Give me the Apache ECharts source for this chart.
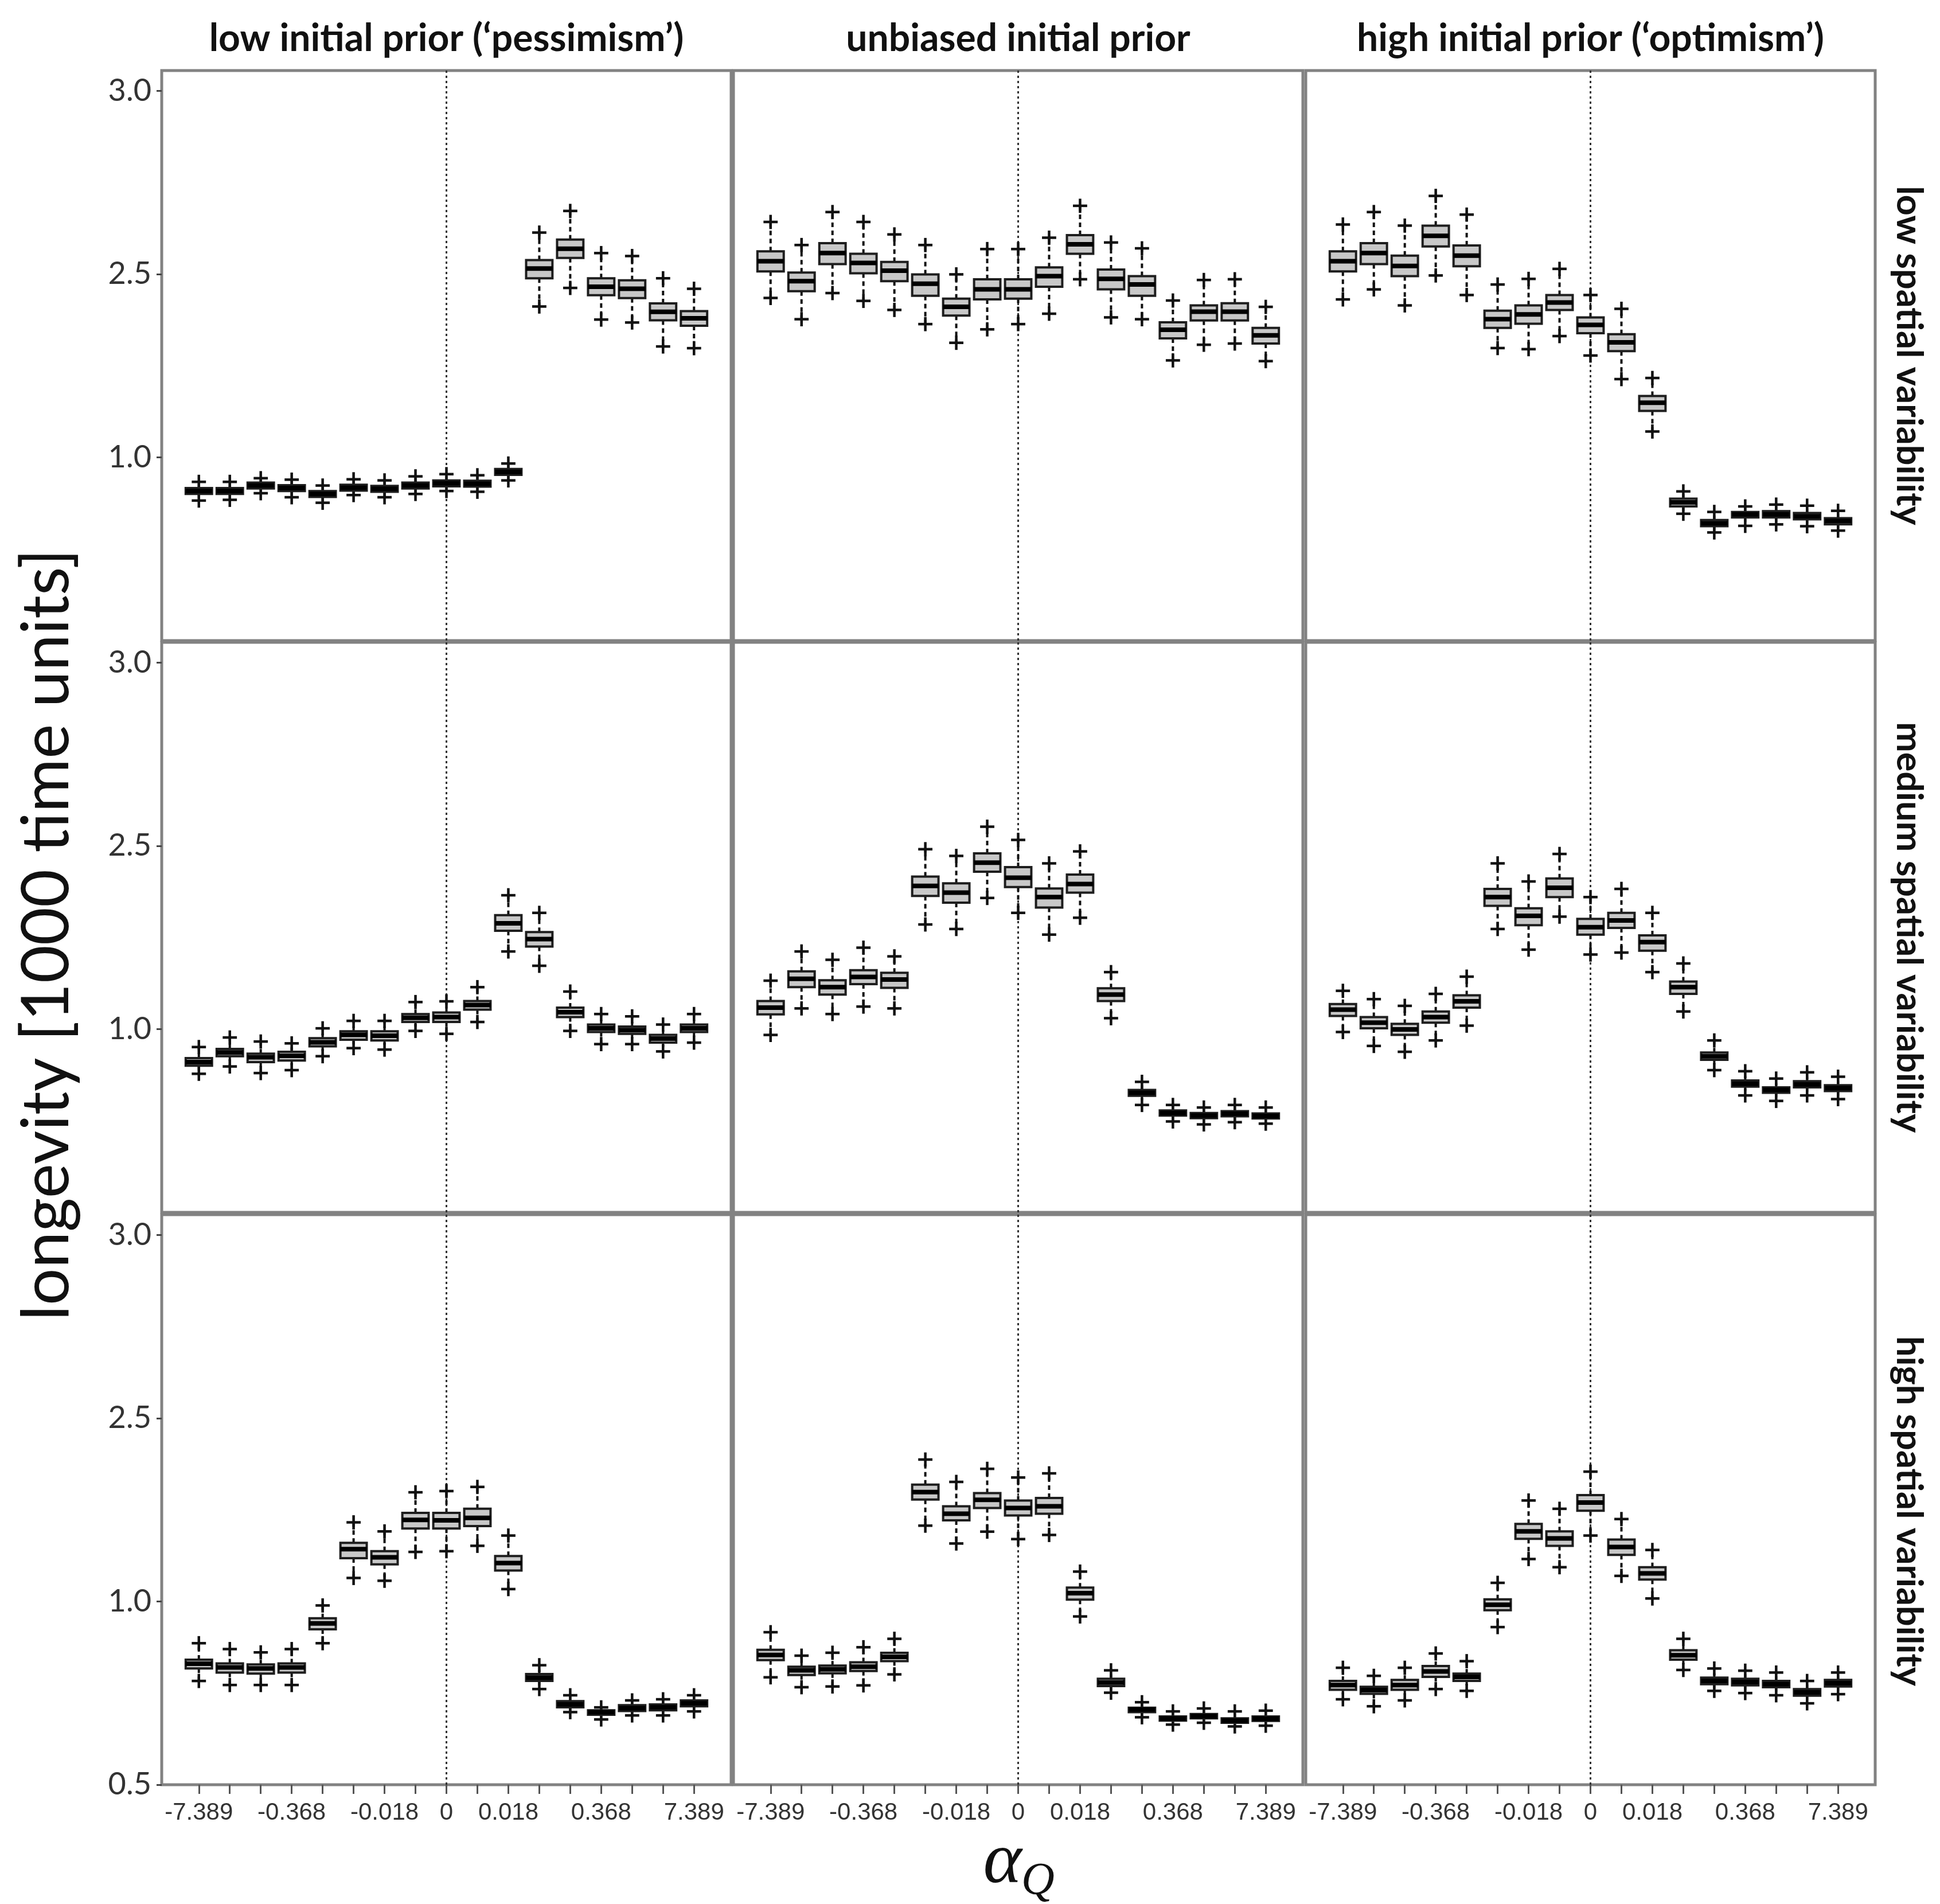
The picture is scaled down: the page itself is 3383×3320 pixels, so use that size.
<!DOCTYPE html>
<html>
<head>
<meta charset="utf-8">
<script src="https://cdn.jsdelivr.net/npm/echarts@6/dist/echarts.min.js"></script>
<style>
html,body{margin:0;padding:0;background:#ffffff;}
#chart{width:3383px;height:3320px;}
</style>
</head>
<body>
<div id="chart"></div>
<script>
// ---------------- DATA ----------------
const categories = ['-7.389','-2.718','-1','-0.368','-0.135','-0.050','-0.018','-0.007','0','0.007','0.018','0.050','0.135','0.368','1','2.718','7.389'];
const labelledCategories = ['-7.389','-0.368','-0.018','0','0.018','0.368','7.389'];
const yTickValues = [0.5, 1.0, 2.5, 3.0];       // values printed on the axis
const yTickLabels = ['0.5', '1.0', '2.5', '3.0'];
const yTickPositions = [0.5, 1.0, 1.5, 2.0];     // the printed ticks are equally spaced on the page
const columnTitles = ['low initial prior (\u2018pessimism\u2019)', 'unbiased initial prior', 'high initial prior (\u2018optimism\u2019)'];
const rowTitles = ['low spatial variability', 'medium spatial variability', 'high spatial variability'];
const yAxisTitle = 'longevity [1000 time units]';
const xAxisSymbol = '\u03b1';
const xAxisSubscript = 'Q';

// each entry: [lower whisker, Q1, median, Q3, upper whisker]
const lowPriorLowVar = [
  [0.882,0.900,0.908,0.916,0.933],[0.884,0.900,0.908,0.916,0.933],[0.902,0.915,0.923,0.931,0.943],
  [0.891,0.908,0.916,0.924,0.939],[0.876,0.892,0.900,0.908,0.923],[0.897,0.909,0.917,0.925,0.940],
  [0.891,0.906,0.914,0.922,0.937],[0.900,0.915,0.923,0.931,0.948],[0.908,0.921,0.929,0.937,0.954],
  [0.906,0.920,0.928,0.936,0.951],[0.937,0.952,0.960,0.968,0.983],[2.234,2.465,2.515,2.538,2.613],
  [2.386,2.544,2.569,2.594,2.672],[2.127,2.327,2.396,2.465,2.557],[2.103,2.303,2.379,2.448,2.549],
  [1.907,2.121,2.190,2.259,2.465],[1.893,2.076,2.138,2.196,2.379]
];
const unbiasedPriorLowVar = [
  [2.304,2.507,2.535,2.562,2.642],[2.130,2.359,2.442,2.504,2.579],[2.344,2.527,2.557,2.584,2.669],
  [2.280,2.502,2.530,2.555,2.642],[2.206,2.442,2.509,2.533,2.608],[2.090,2.322,2.420,2.497,2.579],
  [1.937,2.160,2.231,2.298,2.497],[2.047,2.292,2.374,2.457,2.568],[2.090,2.298,2.374,2.457,2.568],
  [2.175,2.396,2.482,2.518,2.599],[2.457,2.555,2.581,2.606,2.686],[2.145,2.374,2.460,2.512,2.586],
  [2.130,2.322,2.414,2.482,2.570],[1.793,1.973,2.044,2.105,2.283],[1.921,2.120,2.191,2.243,2.451],
  [1.931,2.120,2.191,2.261,2.457],[1.787,1.931,1.998,2.059,2.231]
];
const highPriorLowVar = [
  [2.292,2.507,2.535,2.562,2.635],[2.374,2.527,2.557,2.584,2.669],[2.243,2.482,2.522,2.550,2.632],
  [2.488,2.575,2.604,2.632,2.713],[2.328,2.521,2.550,2.578,2.662],[1.894,2.059,2.130,2.200,2.414],
  [1.885,2.093,2.169,2.243,2.460],[1.992,2.206,2.267,2.328,2.514],[1.833,2.016,2.084,2.145,2.328],
  [1.640,1.869,1.940,2.007,2.215],[1.211,1.380,1.447,1.502,1.649],[0.846,0.866,0.877,0.887,0.907],
  [0.795,0.812,0.820,0.829,0.851],[0.813,0.836,0.844,0.851,0.866],[0.817,0.836,0.844,0.853,0.871],
  [0.812,0.831,0.839,0.848,0.868],[0.800,0.817,0.826,0.834,0.854]
];
const lowPriorMedVar = [
  [0.878,0.900,0.910,0.921,0.951],[0.898,0.926,0.936,0.946,0.977],[0.880,0.910,0.923,0.933,0.966],
  [0.888,0.914,0.927,0.938,0.961],[0.926,0.953,0.964,0.975,1.006],[0.948,0.971,0.984,0.994,1.067],
  [0.944,0.969,0.982,0.994,1.067],[0.995,1.058,1.092,1.123,1.221],[0.987,1.058,1.098,1.135,1.227],
  [1.058,1.159,1.196,1.230,1.343],[1.635,1.804,1.865,1.932,2.095],[1.518,1.675,1.736,1.794,1.951],
  [0.995,1.098,1.138,1.175,1.307],[0.959,0.992,1.006,1.037,1.123],[0.959,0.987,0.997,1.021,1.104],
  [0.939,0.963,0.974,0.984,1.037],[0.963,0.992,1.006,1.037,1.123]
];
const unbiasedPriorMedVar = [
  [0.984,1.120,1.175,1.230,1.396],[1.169,1.343,1.411,1.472,1.635],[1.123,1.282,1.343,1.399,1.567],
  [1.184,1.368,1.426,1.482,1.666],[1.169,1.337,1.405,1.460,1.595],[1.856,2.089,2.172,2.248,2.472],
  [1.819,2.034,2.116,2.193,2.417],[2.073,2.288,2.362,2.438,2.552],[1.951,2.162,2.239,2.325,2.516],
  [1.773,1.994,2.080,2.150,2.356],[1.911,2.116,2.187,2.264,2.454],[1.089,1.230,1.282,1.334,1.466],
  [0.793,0.818,0.826,0.834,0.856],[0.748,0.764,0.771,0.778,0.793],[0.740,0.757,0.764,0.771,0.786],
  [0.746,0.762,0.769,0.776,0.793],[0.742,0.756,0.763,0.770,0.786]
];
const highPriorMedVar = [
  [0.992,1.107,1.159,1.205,1.313],[0.954,1.006,1.052,1.098,1.245],[0.938,0.984,0.999,1.043,1.190],
  [0.969,1.052,1.098,1.144,1.288],[1.028,1.175,1.227,1.276,1.429],[1.819,2.009,2.080,2.147,2.356],
  [1.650,1.850,1.926,1.988,2.208],[1.920,2.080,2.156,2.233,2.433],[1.610,1.773,1.834,1.902,2.080],
  [1.626,1.828,1.889,1.951,2.147],[1.466,1.641,1.712,1.767,1.951],[1.144,1.288,1.343,1.389,1.537],
  [0.888,0.916,0.926,0.936,0.969],[0.819,0.843,0.851,0.860,0.885],[0.804,0.826,0.834,0.841,0.865],
  [0.819,0.841,0.849,0.858,0.882],[0.809,0.831,0.839,0.847,0.870]
];
const lowPriorHighVar = [
  [0.783,0.817,0.830,0.841,0.886],[0.772,0.806,0.820,0.831,0.870],[0.772,0.803,0.817,0.828,0.861],
  [0.772,0.806,0.820,0.831,0.870],[0.886,0.924,0.940,0.954,0.989],[1.192,1.354,1.428,1.479,1.647],
  [1.169,1.303,1.361,1.411,1.573],[1.405,1.597,1.667,1.725,1.893],[1.411,1.597,1.664,1.725,1.903],
  [1.455,1.617,1.684,1.758,1.937],[1.101,1.253,1.314,1.371,1.539],[0.761,0.783,0.792,0.802,0.826],
  [0.698,0.711,0.719,0.728,0.744],[0.678,0.691,0.698,0.703,0.711],[0.689,0.701,0.709,0.717,0.730],
  [0.689,0.703,0.711,0.719,0.733],[0.700,0.714,0.722,0.730,0.744]
];
const unbiasedPriorHighVar = [
  [0.793,0.840,0.854,0.868,0.916],[0.766,0.799,0.812,0.822,0.852],[0.768,0.804,0.815,0.825,0.860],
  [0.771,0.810,0.822,0.834,0.875],[0.801,0.837,0.849,0.860,0.898],[1.620,1.834,1.895,1.956,2.161],
  [1.474,1.663,1.718,1.779,1.978],[1.571,1.764,1.831,1.886,2.085],[1.510,1.703,1.764,1.825,2.014],
  [1.544,1.718,1.779,1.846,2.048],[0.959,1.015,1.067,1.113,1.244],[0.751,0.769,0.779,0.789,0.812],
  [0.684,0.698,0.705,0.710,0.725],[0.664,0.675,0.681,0.686,0.700],[0.669,0.681,0.687,0.693,0.708],
  [0.659,0.669,0.675,0.681,0.700],[0.661,0.674,0.680,0.686,0.702]
];
const highPriorHighVar = [
  [0.733,0.759,0.772,0.783,0.819],[0.714,0.748,0.758,0.767,0.797],[0.730,0.759,0.772,0.786,0.819],
  [0.761,0.794,0.809,0.824,0.858],[0.756,0.783,0.794,0.803,0.837],[0.930,0.976,0.991,1.017,1.152],
  [1.347,1.512,1.573,1.634,1.826],[1.280,1.455,1.516,1.573,1.758],[1.539,1.742,1.809,1.870,2.062],
  [1.209,1.381,1.445,1.506,1.674],[1.024,1.179,1.229,1.280,1.421],[0.813,0.841,0.853,0.867,0.898],
  [0.756,0.774,0.783,0.792,0.817],[0.750,0.771,0.780,0.789,0.811],[0.744,0.766,0.774,0.783,0.806],
  [0.722,0.743,0.752,0.761,0.783],[0.747,0.768,0.777,0.786,0.806]
];

// ---------------- LAYOUT ----------------
const panels = [
  [lowPriorLowVar, unbiasedPriorLowVar, highPriorLowVar],
  [lowPriorMedVar, unbiasedPriorMedVar, highPriorMedVar],
  [lowPriorHighVar, unbiasedPriorHighVar, highPriorHighVar]
];
const colLeft = [282, 1279, 2277], colWidth = 993;
const rowTop = [123, 1120, 2118], rowHeight = 994;
const X_MIN = -1.2, X_MAX = 17.2;
const Y_MIN = 0.5, Y_MAX = 2.055;
const BOX_W = 0.85, PLUS_W = 0.46;

// map printed axis value -> page position (piecewise linear between the printed ticks)
function toPos(v) {
  const a = yTickValues, b = yTickPositions;
  let i = 0;
  while (i < a.length - 2 && v > a[i + 1]) i++;
  return b[i] + (v - a[i]) * (b[i + 1] - b[i]) / (a[i + 1] - a[i]);
}
function posLabel(p) {
  for (let i = 0; i < yTickPositions.length; i++) {
    if (Math.abs(yTickPositions[i] - p) < 1e-6) return yTickLabels[i];
  }
  return '';
}

function renderBox(params, api) {
  const x = api.value(0);
  const pLo = api.coord([x, api.value(1)]);
  const pQ1 = api.coord([x, api.value(2)]);
  const pMed = api.coord([x, api.value(3)]);
  const pQ3 = api.coord([x, api.value(4)]);
  const pHi = api.coord([x, api.value(5)]);
  const bw = api.size([BOX_W, 0])[0];
  const pw = api.size([PLUS_W, 0])[0];
  const cx = pMed[0];
  const whisk = { stroke: '#111', lineWidth: 4, lineDash: [8, 6] };
  const plus = { stroke: '#111', lineWidth: 4.5 };
  const plusAt = (y) => [
    { type: 'line', shape: { x1: cx - pw / 2, y1: y, x2: cx + pw / 2, y2: y }, style: plus },
    { type: 'line', shape: { x1: cx, y1: y - pw / 2, x2: cx, y2: y + pw / 2 }, style: plus }
  ];
  return {
    type: 'group',
    children: [
      { type: 'line', shape: { x1: cx, y1: pQ3[1], x2: cx, y2: pHi[1] }, style: whisk },
      { type: 'line', shape: { x1: cx, y1: pQ1[1], x2: cx, y2: pLo[1] }, style: whisk },
      ...plusAt(pHi[1]),
      ...plusAt(pLo[1]),
      { type: 'rect', shape: { x: cx - bw / 2, y: pQ3[1], width: bw, height: Math.max(pQ1[1] - pQ3[1], 1) },
        style: { fill: '#c8c8c8', stroke: '#1e1e1e', lineWidth: 4 } },
      { type: 'line', shape: { x1: cx - bw / 2, y1: pMed[1], x2: cx + bw / 2, y2: pMed[1] },
        style: { stroke: '#000', lineWidth: 8 } }
    ]
  };
}

function renderZeroLine(params, api) {
  const cs = params.coordSys;
  const px = api.coord([api.value(0), Y_MIN])[0];
  return { type: 'line', shape: { x1: px, y1: cs.y, x2: px, y2: cs.y + cs.height },
    style: { stroke: '#333', lineWidth: 3, lineDash: [4, 5] } };
}

const zeroIndex = categories.indexOf('0');
const allIdx = categories.map((c, i) => i);
const labelIdx = labelledCategories.map(c => categories.indexOf(c));

const grid = [], xAxis = [], yAxis = [], series = [];
for (let r = 0; r < 3; r++) {
  for (let c = 0; c < 3; c++) {
    const gi = r * 3 + c;
    grid.push({ left: colLeft[c], top: rowTop[r], width: colWidth, height: rowHeight,
      show: true, borderColor: '#828282', borderWidth: 5, backgroundColor: 'transparent' });
    const bottomRow = r === 2;
    xAxis.push({
      type: 'value', gridIndex: gi, min: X_MIN, max: X_MAX, position: 'bottom',
      axisLine: { show: false, onZero: false }, splitLine: { show: false },
      axisTick: { show: bottomRow, customValues: allIdx, length: 16, lineStyle: { color: '#555', width: 3 } },
      axisLabel: { show: bottomRow, customValues: labelIdx, formatter: v => categories[Math.round(v)],
        fontSize: 42, fontFamily: 'Liberation Sans', color: '#333', margin: 28 }
    });
    const tickPos = bottomRow ? yTickPositions : yTickPositions.slice(1);
    yAxis.push({
      type: 'value', gridIndex: gi, min: Y_MIN, max: Y_MAX, position: 'left',
      axisLine: { show: false, onZero: false }, splitLine: { show: false },
      axisTick: { show: c === 0, customValues: tickPos, length: 9, lineStyle: { color: '#444', width: 3 } },
      axisLabel: { show: c === 0, customValues: tickPos, formatter: v => posLabel(v),
        fontSize: 54, fontFamily: 'Lato', color: '#333', margin: 18 }
    });
    series.push({
      type: 'custom', xAxisIndex: gi, yAxisIndex: gi, silent: true, z: 1,
      data: [[zeroIndex]], encode: { x: 0 }, renderItem: renderZeroLine
    });
    series.push({
      type: 'custom', xAxisIndex: gi, yAxisIndex: gi, silent: true, z: 3,
      data: panels[r][c].map((d, k) => [k].concat(d.map(toPos))),
      encode: { x: 0, y: [1, 2, 3, 4, 5] }, renderItem: renderBox
    });
  }
}

const rowLabelShift = [0, 0, 20];
const graphic = [];
columnTitles.forEach((t, c) => graphic.push({
  type: 'text', x: colLeft[c] + colWidth / 2, y: 68,
  style: { text: t, fontSize: 66, fontWeight: 'bold', fontFamily: 'Lato', fill: '#111', align: 'center', verticalAlign: 'middle' }
}));
rowTitles.forEach((t, r) => graphic.push({
  type: 'text', x: 3328, y: rowTop[r] + rowHeight / 2 + rowLabelShift[r], rotation: -Math.PI / 2,
  style: { text: t, fontSize: 63, fontWeight: 'bold', fontFamily: 'Lato', fill: '#111', align: 'center', verticalAlign: 'middle' }
}));
graphic.push({
  type: 'text', x: 82, y: 1630, rotation: Math.PI / 2,
  style: { text: yAxisTitle, fontSize: 114, fontFamily: 'Lato', fill: '#111', align: 'center', verticalAlign: 'middle' }
});
graphic.push({
  type: 'text', x: 1748, y: 3248,
  style: { text: xAxisSymbol, fontSize: 128, fontStyle: 'italic', fontFamily: 'Liberation Serif', fill: '#111', align: 'center', verticalAlign: 'middle' }
});
graphic.push({
  type: 'text', x: 1810, y: 3282,
  style: { text: xAxisSubscript, fontSize: 80, fontStyle: 'italic', fontFamily: 'Liberation Serif', fill: '#111', align: 'center', verticalAlign: 'middle' }
});

const chart = echarts.init(document.getElementById('chart'), null, { renderer: 'canvas' });
chart.setOption({
  backgroundColor: '#ffffff',
  animation: false,
  grid: grid, xAxis: xAxis, yAxis: yAxis, series: series, graphic: graphic
});
</script>
</body>
</html>
